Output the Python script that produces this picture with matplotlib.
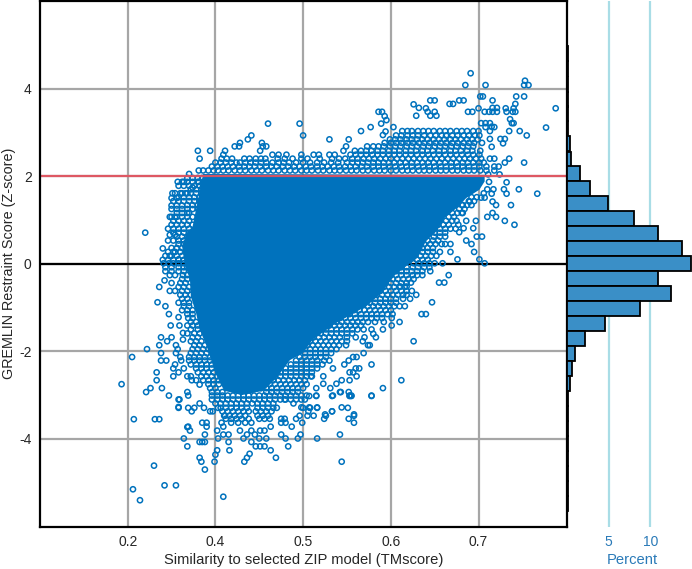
import matplotlib
matplotlib.use('Agg')
import matplotlib.pyplot as plt

plt.rcParams['font.family'] = ['Liberation Sans', 'DejaVu Sans']
plt.rcParams['axes.unicode_minus'] = False

# tick positions and what the reference prints there
x_tick_pos = [0.2, 0.3, 0.4, 0.5, 0.6]
x_tick_labels = ['0.2', '0.4', '0.5', '0.6', '0.7']
y_ticks = [-4, -2, 0, 2, 4]

# outline of the saturated middle of the cloud
core_x = [0.286, 0.607, 0.607, 0.601, 0.586, 0.575, 0.561, 0.552, 0.540, 0.530, 0.520, 0.505, 0.487,
          0.472, 0.438, 0.411, 0.400, 0.385, 0.370, 0.355, 0.330, 0.310, 0.300, 0.290, 0.282, 0.278, 0.272,
          0.271, 0.265, 0.262, 0.267, 0.274]
core_y = [2.05, 2.03, 1.88, 1.69, 1.50, 1.27, 1.04, 0.74, 0.51, 0.13, -0.02, -0.25, -0.71,
          -0.97, -1.35, -1.73, -2.04, -2.20, -2.60, -2.90, -3.00, -2.90, -2.50, -1.88, -1.50, -1.13, -0.75,
          -0.37, 0.00, 0.40, 0.70, 0.85]

edge_x = [0.591, 0.585, 0.608, 0.653, 0.652, 0.657, 0.602, 0.605, 0.643, 0.652, 0.616, 0.545, 0.550, 0.526,
          0.532, 0.688, 0.642, 0.640, 0.631, 0.567, 0.571, 0.578, 0.583, 0.540, 0.542, 0.550, 0.545, 0.529,
          0.552, 0.600, 0.588, 0.593, 0.607, 0.612, 0.616, 0.621, 0.616, 0.621, 0.632, 0.639, 0.642, 0.636,
          0.638, 0.640, 0.677, 0.635, 0.647, 0.655, 0.625, 0.630, 0.628, 0.613, 0.615, 0.635, 0.630, 0.652,
          0.618, 0.613, 0.623, 0.618, 0.618, 0.624, 0.611, 0.613, 0.608, 0.603, 0.618, 0.613, 0.615, 0.608,
          0.360, 0.396, 0.400, 0.430, 0.341, 0.337, 0.328, 0.322, 0.327, 0.280, 0.294, 0.282, 0.353, 0.354,
          0.358, 0.351, 0.311, 0.309, 0.307, 0.446, 0.449, 0.452, 0.466, 0.477, 0.489, 0.495, 0.486, 0.490,
          0.493, 0.503, 0.494, 0.491,
          0.632, 0.617, 0.615, 0.629, 0.632, 0.646, 0.667, 0.607, 0.603, 0.616, 0.620, 0.637, 0.610, 0.616,
          0.620, 0.630, 0.641, 0.597, 0.594, 0.598, 0.604, 0.586, 0.592, 0.595, 0.576, 0.601, 0.607, 0.559,
          0.545, 0.566, 0.555, 0.561, 0.529, 0.590, 0.582, 0.581, 0.586, 0.577, 0.583, 0.578, 0.568, 0.568,
          0.552, 0.525, 0.523, 0.518, 0.511, 0.518,
          0.547, 0.535, 0.540, 0.510, 0.501, 0.501, 0.526, 0.491, 0.492, 0.483, 0.480, 0.478, 0.469, 0.470,
          0.468, 0.474, 0.476, 0.469, 0.461, 0.457, 0.452, 0.447, 0.478, 0.434, 0.464, 0.460, 0.453, 0.457,
          0.461, 0.453, 0.512, 0.491, 0.444, 0.438, 0.431, 0.442, 0.452, 0.453, 0.455, 0.478, 0.433, 0.444,
          0.416, 0.433, 0.458, 0.425, 0.423, 0.423, 0.415, 0.415, 0.409, 0.407, 0.402, 0.398, 0.407, 0.406,
          0.193, 0.205, 0.222, 0.236, 0.234, 0.243, 0.247, 0.249, 0.238, 0.250, 0.245, 0.236, 0.238, 0.238,
          0.244, 0.233, 0.233, 0.252, 0.252, 0.258, 0.254, 0.239, 0.226, 0.221, 0.247, 0.258, 0.268, 0.255,
          0.257, 0.255, 0.260, 0.261, 0.264, 0.268, 0.273, 0.278, 0.282, 0.258, 0.259, 0.268, 0.263, 0.263,
          0.269, 0.248, 0.254, 0.250, 0.242,
          0.309, 0.288, 0.282, 0.284, 0.299, 0.300, 0.302, 0.316, 0.268, 0.264, 0.271, 0.269, 0.282, 0.285,
          0.288, 0.288, 0.285, 0.290, 0.290, 0.303, 0.309, 0.315, 0.315, 0.302, 0.258, 0.259, 0.269, 0.269,
          0.273, 0.276, 0.282, 0.287, 0.294, 0.297, 0.303, 0.307, 0.311, 0.309, 0.318, 0.326, 0.334, 0.341,
          0.328, 0.332, 0.336, 0.341, 0.341, 0.345, 0.350, 0.358, 0.351, 0.356, 0.363, 0.346, 0.351, 0.356,
          0.363, 0.369, 0.339, 0.336, 0.333, 0.383, 0.375, 0.380, 0.387, 0.394, 0.397, 0.416, 0.442, 0.444,
          0.399, 0.392, 0.396, 0.405, 0.412, 0.400, 0.408, 0.416, 0.426, 0.424, 0.433, 0.451, 0.452, 0.458,
          0.458, 0.478, 0.453, 0.455, 0.443, 0.434, 0.415, 0.389, 0.379, 0.370, 0.375, 0.380, 0.379, 0.375,
          0.206, 0.214, 0.242, 0.255, 0.230, 0.207, 0.231, 0.236, 0.268, 0.258,
          0.220, 0.270, 0.257, 0.264, 0.251, 0.250, 0.256, 0.262, 0.250, 0.256, 0.262, 0.248, 0.254, 0.252,
          0.246, 0.252, 0.248, 0.254, 0.246, 0.252, 0.268, 0.274, 0.281,
          0.240, 0.246, 0.243, 0.248, 0.240, 0.246, 0.241, 0.247, 0.252, 0.243, 0.250, 0.243, 0.250, 0.248,
          0.254, 0.252, 0.256, 0.258, 0.258, 0.258]
edge_y = [4.35, 4.08, 4.08, 4.18, 4.08, 4.08, 3.82, 3.82, 3.82, 3.82, 3.73, 3.73, 3.73, 3.64,
          3.56, 3.55, 3.65, 3.55, 3.55, 3.65, 3.65, 3.73, 3.73, 3.55, 3.47, 3.47, 3.38, 3.38,
          3.38, 3.55, 3.47, 3.47, 3.47, 3.47, 3.47, 3.47, 3.56, 3.56, 3.47, 3.47, 3.47, 3.30,
          3.21, 3.21, 3.11, 3.03, 3.03, 2.93, 2.85, 2.85, 2.75, 2.85, 2.67, 2.40, 2.31, 2.31,
          2.40, 2.40, 2.22, 2.22, 2.13, 2.04, 2.04, 3.21, 3.21, 3.21, 3.12, 3.03, 3.13, 3.12,
          3.20, 3.20, 2.93, 2.84, 2.93, 2.84, 2.76, 2.68, 2.68, 2.58, 2.58, 2.40, 2.76, 2.68,
          2.68, 2.58, 2.58, 2.49, 2.40, 2.58, 2.68, 2.84, 3.03, 3.12, 3.20, 3.28, 3.47, 3.47,
          3.37, 3.12, 3.02, 2.94,
          1.86, 1.70, 1.60, 1.70, 1.60, 1.70, 1.60, 1.51, 1.51, 1.42, 1.34, 1.34, 1.07, 1.16,
          1.07, 0.98, 0.89, 0.98, 0.81, 0.62, 0.62, 0.53, 0.45, 0.27, 0.10, 0.10, 0.01, 0.01,
          -0.17, -0.26, -0.43, -0.43, -0.71, 1.42, 1.34, 1.16, 0.98, 0.89, 0.81, 0.72, 0.45, 0.27,
          0.18, -0.26, -0.43, -0.52, -0.52, -0.71,
          -0.88, -1.15, -1.15, -1.33, -1.41, -1.24, -1.77, -1.50, -1.33, -1.68, -1.60, -1.50, -1.50, -1.68,
          -1.77, -1.86, -1.86, -2.04, -2.13, -2.13, -2.21, -2.30, -2.30, -2.39, -2.39, -2.39, -2.48, -2.48,
          -2.57, -2.66, -2.66, -2.84, -2.66, -2.74, -2.84, -2.93, -2.93, -3.02, -3.02, -3.02, -3.02, -3.28,
          -3.28, -3.37, -3.44, -3.44, -2.57, -2.74, -2.84, -3.02, -2.57, -3.02, -3.10, -3.28, -3.28, -3.37,
          -2.75, -2.13, -1.95, -0.53, -0.88, -0.97, -1.15, -1.41, -1.68, -1.68, -1.77, -1.86, -2.04, -2.21,
          -2.21, -2.48, -2.66, -2.57, -2.39, -2.48, -2.30, -2.84, -2.84, -2.93, -3.01, -3.10, -2.93, -1.86,
          -1.95, -2.04, -2.13, -2.21, -2.39, -2.57, -2.66, -2.66, -2.76, -1.22, -1.41, -1.41, -1.58, -1.73,
          -1.24, -0.62, -0.62, -0.44, -0.38,
          -5.32, -4.70, -4.43, -4.52, -4.52, -4.36, -4.26, -4.26, -4.17, -3.99, -3.81, -3.72, -4.07, -4.07,
          -4.07, -3.90, -3.63, -3.63, -3.72, -3.99, -3.90, -3.90, -4.07, -3.81, -3.29, -3.10, -3.29, -3.01,
          -3.37, -3.29, -3.19, -3.29, -3.37, -3.37, -3.29, -3.63, -3.47, -3.72, -3.63, -3.63, -3.63, -3.63,
          -3.81, -3.99, -3.90, -4.07, -3.81, -3.90, -3.99, -3.99, -3.81, -3.81, -3.72, -4.17, -4.17, -4.17,
          -4.26, -4.43, -4.34, -4.43, -4.52, -4.17, -3.90, -3.99, -3.72, -3.99, -3.90, -3.99, -3.90, -4.52,
          -3.63, -3.54, -3.47, -3.47, -3.47, -3.29, -3.29, -3.29, -3.47, -3.54, -3.37, -3.29, -3.54, -3.63,
          -3.47, -3.01, -3.01, -3.01, -2.93, -3.01, -3.01, -3.19, -3.10, -3.29, -3.63, -3.63, -3.54, -3.54,
          -5.15, -5.40, -5.06, -5.06, -4.61, -3.55, -3.55, -3.55, -3.73, -3.27,
          0.71, 2.05, 1.87, 1.87, 1.61, 1.50, 1.50, 1.61, 1.33, 1.33, 1.33, 1.07, 1.07, 0.98,
          0.80, 0.80, 0.66, 0.66, 0.53, 0.53, 1.61, 1.74, 1.87,
          0.35, 0.27, 0.18, 0.18, 0.09, 0.09, 0.01, 0.01, 0.01, -0.08, -0.08, -0.17, -0.17, -0.26,
          -0.26, 0.27, 0.35, 0.10, -0.08, -0.17]

# denser rows: the y values are quantised, so each level gets a list of x readings
row_levels = [3.03, 2.93, 2.84, 2.76, 2.68, 2.58, 2.49, 2.40, 2.31, 2.22, 2.13,
              1.96, 1.87, 1.78, 1.70, 1.61, 1.52, 1.43, 1.34, 1.25, 1.16, 1.07, 0.98, 0.89, 0.80, 0.71, 0.62, 0.53,
              0.45, 0.36, 0.27, 0.18, 0.09,
              0.01, -0.08, -0.17, -0.26, -0.35, -0.44, -0.53, -0.62, -0.71, -0.80, -0.89, -0.97, -1.06, -1.15,
              -1.24, -1.33, -1.41, -1.50, -1.59, -1.68, -1.77, -1.86, -1.95, -2.04, -2.13, -2.21, -2.30, -2.39,
              -2.48, -2.57, -2.66, -2.75, -2.84, -2.93,
              -3.01, -3.10, -3.19, -3.29, -3.37, -3.47, -3.54]
row_x = [
    [0.513, 0.519, 0.524, 0.531, 0.537, 0.543, 0.549, 0.556, 0.562, 0.568, 0.575, 0.581, 0.587, 0.594, 0.600],
    [0.506, 0.512, 0.519, 0.525, 0.531, 0.538, 0.545, 0.551, 0.558, 0.563, 0.570, 0.576, 0.583, 0.589, 0.596, 0.601],
    [0.499, 0.505, 0.511, 0.518, 0.524, 0.530, 0.536, 0.542, 0.549, 0.555, 0.561, 0.568, 0.574, 0.580, 0.587, 0.593, 0.599],
    [0.493, 0.500, 0.506, 0.512, 0.519, 0.525, 0.532, 0.538, 0.544, 0.551, 0.557, 0.563, 0.570, 0.576, 0.583, 0.589, 0.595, 0.604],
    [0.473, 0.480, 0.486, 0.492, 0.499, 0.505, 0.511, 0.518, 0.524, 0.530, 0.537, 0.543, 0.550, 0.556, 0.562, 0.569, 0.575, 0.582, 0.588, 0.594],
    [0.459, 0.466, 0.472, 0.478, 0.485, 0.491, 0.498, 0.504, 0.510, 0.517, 0.523, 0.529, 0.536, 0.542, 0.548, 0.555, 0.561, 0.568, 0.574, 0.580, 0.587, 0.593, 0.602],
    [0.365, 0.372, 0.381, 0.398, 0.412, 0.418, 0.430, 0.436, 0.454, 0.460, 0.466, 0.472, 0.479, 0.485, 0.491, 0.498, 0.504, 0.510, 0.517, 0.523, 0.530, 0.536, 0.543, 0.549, 0.555, 0.562, 0.568, 0.575, 0.581, 0.588, 0.594, 0.601],
    [0.313, 0.319, 0.333, 0.339, 0.346, 0.352, 0.357, 0.371, 0.379, 0.388, 0.398, 0.405, 0.419, 0.433, 0.441, 0.448, 0.456, 0.462, 0.469, 0.475, 0.481, 0.488, 0.494, 0.500, 0.507, 0.513, 0.520, 0.526, 0.533, 0.539, 0.545, 0.552, 0.558, 0.565, 0.571, 0.578, 0.584, 0.590, 0.597, 0.603],
    [0.300, 0.306, 0.312, 0.318, 0.324, 0.328, 0.334, 0.340, 0.346, 0.352, 0.358, 0.365, 0.372, 0.378, 0.384, 0.392, 0.400, 0.408, 0.416, 0.424, 0.432, 0.440, 0.450, 0.456, 0.462, 0.468, 0.474, 0.480, 0.486, 0.492, 0.498, 0.504, 0.511, 0.517, 0.524, 0.530, 0.536, 0.543, 0.549, 0.556, 0.562, 0.569, 0.575, 0.582, 0.588, 0.594, 0.601, 0.606],
    [0.296, 0.302, 0.308, 0.314, 0.320, 0.327, 0.333, 0.339, 0.345, 0.351, 0.358, 0.364, 0.370, 0.377, 0.383, 0.390, 0.396, 0.403, 0.409, 0.416, 0.422, 0.428, 0.435, 0.441, 0.448, 0.454, 0.460, 0.467, 0.473, 0.480, 0.486, 0.492, 0.499, 0.505, 0.512, 0.518, 0.524, 0.531, 0.537, 0.544, 0.550, 0.557, 0.563, 0.569, 0.576, 0.582, 0.589, 0.595, 0.601, 0.609],
    [0.281, 0.286, 0.292, 0.298, 0.303, 0.309, 0.315, 0.322, 0.328, 0.334, 0.341, 0.347, 0.353, 0.360, 0.366, 0.372, 0.379, 0.385, 0.391, 0.398, 0.404, 0.410, 0.417, 0.423, 0.430, 0.436, 0.442, 0.449, 0.455, 0.461, 0.468, 0.474, 0.481, 0.487, 0.493, 0.500, 0.506, 0.513, 0.519, 0.525, 0.532, 0.538, 0.544, 0.551, 0.557, 0.563, 0.570, 0.576, 0.583, 0.589, 0.595, 0.602, 0.609],
    [0.268, 0.274, 0.280, 0.285],
    [0.262, 0.268, 0.274, 0.280, 0.286, 0.612],
    [0.258, 0.264, 0.270, 0.276, 0.282, 0.286],
    [0.272, 0.278, 0.284, 0.610],
    [0.254, 0.260, 0.266, 0.272, 0.278, 0.284, 0.606],
    [0.258, 0.264, 0.270, 0.276, 0.282, 0.592, 0.598],
    [0.252, 0.258, 0.264, 0.270, 0.276, 0.282, 0.589, 0.595],
    [0.268, 0.274, 0.280, 0.581, 0.587, 0.592],
    [0.250, 0.256, 0.262, 0.268, 0.274, 0.280, 0.578, 0.584],
    [0.256, 0.262, 0.268, 0.270, 0.570, 0.576, 0.582],
    [0.250, 0.256, 0.262, 0.268, 0.274, 0.566, 0.572],
    [0.258, 0.264, 0.270, 0.556, 0.563, 0.570, 0.575],
    [0.250, 0.256, 0.262, 0.268, 0.274, 0.554, 0.560, 0.566],
    [0.258, 0.264, 0.270, 0.556, 0.562, 0.568, 0.574],
    [0.252, 0.258, 0.264, 0.270, 0.550, 0.556, 0.562],
    [0.256, 0.262, 0.268, 0.549, 0.556, 0.562],
    [0.258, 0.264, 0.270, 0.542, 0.548, 0.554],
    [0.258, 0.264, 0.538, 0.545, 0.551, 0.558, 0.562],
    [0.250, 0.256, 0.262, 0.536, 0.542, 0.548],
    [0.254, 0.260, 0.536, 0.542, 0.548, 0.556],
    [0.250, 0.256, 0.262, 0.534, 0.540, 0.546],
    [0.252, 0.258, 0.264, 0.530, 0.536, 0.542],
    [0.258, 0.264, 0.526, 0.532, 0.538, 0.544, 0.550],
    [0.264, 0.268, 0.500, 0.506, 0.512, 0.518, 0.525, 0.531, 0.538, 0.544],
    [0.264, 0.494, 0.500, 0.506, 0.512, 0.518, 0.524, 0.530, 0.536],
    [0.263, 0.268, 0.494, 0.500, 0.506, 0.512, 0.518, 0.530, 0.536],
    [0.262, 0.268, 0.490, 0.496, 0.502, 0.508, 0.514, 0.520, 0.526],
    [0.260, 0.266, 0.488, 0.494, 0.500, 0.506, 0.512, 0.518],
    [0.258, 0.264, 0.270, 0.486, 0.492, 0.498, 0.504, 0.510, 0.516],
    [0.262, 0.268, 0.488, 0.494, 0.500, 0.506, 0.512, 0.518, 0.524],
    [0.260, 0.266, 0.272, 0.478, 0.484, 0.490, 0.496, 0.502, 0.508, 0.514],
    [0.476, 0.482, 0.488, 0.494, 0.500, 0.506, 0.514, 0.522, 0.262, 0.268],
    [0.258, 0.264, 0.270, 0.470, 0.476, 0.482, 0.488, 0.494, 0.500, 0.506],
    [0.474, 0.480, 0.486, 0.492, 0.498, 0.504, 0.510, 0.516, 0.264, 0.270],
    [0.262, 0.268, 0.274, 0.452, 0.458, 0.464, 0.470, 0.476, 0.482, 0.488, 0.494, 0.500],
    [0.440, 0.447, 0.453, 0.459, 0.466, 0.472, 0.478, 0.484, 0.490, 0.496, 0.502, 0.268, 0.274],
    [0.274, 0.436, 0.442, 0.448, 0.454, 0.460, 0.466, 0.472, 0.478, 0.484, 0.490],
    [0.426, 0.432, 0.438, 0.444, 0.450, 0.456, 0.462, 0.468, 0.474, 0.482, 0.272, 0.278],
    [0.424, 0.430, 0.436, 0.442, 0.448, 0.454, 0.460, 0.466, 0.274, 0.280],
    [0.420, 0.426, 0.432, 0.438, 0.444, 0.450, 0.456, 0.462, 0.272, 0.280],
    [0.414, 0.420, 0.426, 0.432, 0.438, 0.444, 0.450, 0.456, 0.268, 0.276, 0.282],
    [0.412, 0.418, 0.424, 0.430, 0.436, 0.442, 0.450, 0.460, 0.274, 0.280],
    [0.408, 0.414, 0.420, 0.426, 0.432, 0.438, 0.444, 0.450, 0.272, 0.278, 0.284],
    [0.405, 0.411, 0.417, 0.423, 0.429, 0.435, 0.441, 0.449, 0.276, 0.282, 0.288],
    [0.402, 0.408, 0.414, 0.420, 0.426, 0.432, 0.438, 0.274, 0.280, 0.286, 0.292],
    [0.402, 0.408, 0.414, 0.420, 0.426, 0.432, 0.272, 0.278, 0.284, 0.290, 0.296],
    [0.396, 0.402, 0.408, 0.414, 0.420, 0.426, 0.270, 0.276, 0.282, 0.288, 0.294, 0.300],
    [0.392, 0.398, 0.404, 0.410, 0.416, 0.424, 0.430, 0.270, 0.276, 0.282, 0.288, 0.294, 0.300, 0.306],
    [0.386, 0.392, 0.398, 0.404, 0.410, 0.416, 0.422, 0.272, 0.278, 0.284, 0.290, 0.296, 0.302],
    [0.380, 0.386, 0.392, 0.398, 0.404, 0.410, 0.416, 0.278, 0.284, 0.290, 0.296, 0.302, 0.308],
    [0.374, 0.380, 0.386, 0.392, 0.398, 0.404, 0.410, 0.280, 0.286, 0.292, 0.298, 0.304],
    [0.362, 0.368, 0.374, 0.380, 0.386, 0.392, 0.398, 0.404, 0.410, 0.272, 0.284, 0.290, 0.296, 0.302, 0.308, 0.314],
    [0.360, 0.366, 0.372, 0.378, 0.384, 0.390, 0.396, 0.402, 0.286, 0.292, 0.298, 0.304, 0.310],
    [0.356, 0.362, 0.368, 0.374, 0.380, 0.386, 0.392, 0.398, 0.404, 0.292, 0.298, 0.304],
    [0.352, 0.358, 0.364, 0.370, 0.376, 0.382, 0.388, 0.394, 0.400, 0.294, 0.300],
    [0.358, 0.364, 0.370, 0.376, 0.382, 0.388, 0.394, 0.296, 0.302, 0.308],
    [0.296, 0.302, 0.308, 0.314, 0.320, 0.326, 0.332, 0.338, 0.344, 0.350, 0.356, 0.362, 0.368, 0.374, 0.380, 0.386, 0.392, 0.398, 0.404],
    [0.296, 0.302, 0.308, 0.314, 0.320, 0.326, 0.332, 0.338, 0.344, 0.350, 0.356, 0.362, 0.368, 0.374, 0.380, 0.386, 0.392, 0.398],
    [0.300, 0.306, 0.312, 0.318, 0.324, 0.330, 0.336, 0.342, 0.348, 0.354, 0.360, 0.366],
    [0.306, 0.312, 0.318, 0.324, 0.330, 0.336, 0.348, 0.354, 0.360, 0.366],
    [0.308, 0.314, 0.320, 0.326, 0.332, 0.338, 0.346, 0.352, 0.358, 0.364],
    [0.310, 0.316, 0.322, 0.328, 0.334, 0.348, 0.354, 0.360],
    [0.312, 0.318, 0.324, 0.330, 0.338, 0.350, 0.356, 0.362],
    [0.308, 0.314, 0.320, 0.326, 0.336, 0.350, 0.358],
]

# marginal histogram, percent per bin, top to bottom
bin_centers = [4.79, 4.45, 4.10, 3.76, 3.42, 3.08, 2.74, 2.39, 2.05, 1.71, 1.37, 1.03, 0.68, 0.34, 0.00, -0.34,
               -0.68, -1.03, -1.37, -1.71, -2.05, -2.39, -2.74, -3.08, -3.42, -3.76, -4.10, -4.45, -4.79, -5.13, -5.47]
percent = [0.07, 0.07, 0.07, 0.08, 0.09, 0.12, 0.3, 0.5, 1.5, 2.7, 4.9, 8.0, 10.9, 13.8, 14.9, 10.9,
           12.5, 8.7, 4.6, 2.2, 1.0, 0.6, 0.3, 0.12, 0.1, 0.09, 0.08, 0.07, 0.07, 0.07, 0.07]
percent_ticks = [5, 10]

dot_blue = '#0072bd'
grid_grey = '#a6a6a6'
text_dark = '#262626'

fig = plt.figure(figsize=(6.92, 5.69), dpi=100)
ax = fig.add_axes([40 / 692, 1 - 526.5 / 569, 527 / 692, 525.5 / 569])
ax_hist = fig.add_axes([567 / 692, 1 - 526.5 / 569, 125 / 692, 525.5 / 569])

# main scatter
ax.grid(True, color=grid_grey, linewidth=1.6, zorder=0)
ax.set_axisbelow(True)
ax.axhline(0, color='black', linewidth=1.6, zorder=1)
ax.fill(core_x, core_y, color=dot_blue, linewidth=0, zorder=2)
ax.scatter(edge_x, edge_y, s=14, facecolors='none', edgecolors=dot_blue, linewidths=1.1, zorder=3)
for level, xs in zip(row_levels, row_x):
    ax.scatter(xs, [level] * len(xs), s=14, facecolors='none', edgecolors=dot_blue, linewidths=1.1, zorder=3)
ax.axhline(2, color='#e5505c', linewidth=1.6, alpha=0.9, zorder=4)

ax.set_xlim(0.1, 0.7009)
ax.set_ylim(-6, 6)
ax.set_xticks(x_tick_pos)
ax.set_xticklabels(x_tick_labels)
ax.set_yticks(y_ticks)
ax.tick_params(length=0, labelsize=10, labelcolor=text_dark, pad=6)
ax.set_xlabel('Similarity to selected ZIP model (TMscore)', fontsize=10.6, color=text_dark, labelpad=3)
ax.set_ylabel('GREMLIN Restraint Score (Z-score)', fontsize=10.4, color=text_dark)
ax.yaxis.set_label_coords(-24 / 527, 0.5)
for side in ax.spines:
    ax.spines[side].set_linewidth(1.6)
    ax.spines[side].set_zorder(6)

# side histogram
for value in percent_ticks:
    ax_hist.axvline(value, color='#a9dde6', linewidth=1.6, zorder=0)
ax_hist.barh(bin_centers, percent, height=0.342, color='#3a8fc7', edgecolor='black', linewidth=1.3, zorder=2)
ax_hist.set_xlim(0, 15)
ax_hist.set_ylim(-6, 6)
ax_hist.set_yticks([])
ax_hist.set_xticks(percent_ticks)
ax_hist.tick_params(length=0, labelsize=10, labelcolor='#2a7ab8', pad=6)
ax_hist.set_xlabel('Percent', fontsize=10.6, color='#2a7ab8', labelpad=3, x=0.52)
ax_hist.patch.set_alpha(0)
for side in ax_hist.spines:
    ax_hist.spines[side].set_visible(False)

fig.savefig('out.png', dpi=100)
